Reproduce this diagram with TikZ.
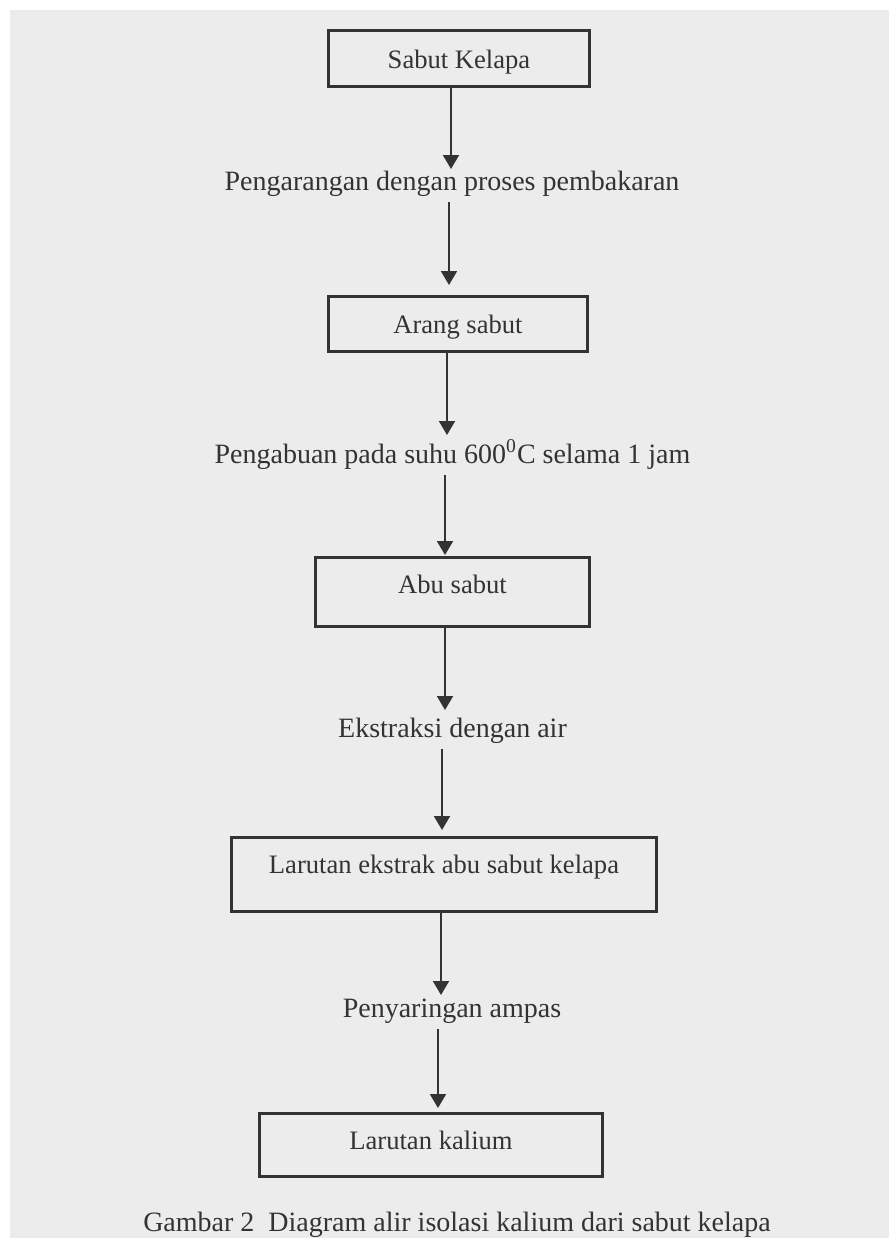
\documentclass[tikz,border=0pt]{standalone}
\usepackage{fontspec}
\setmainfont{Liberation Serif}
\usetikzlibrary{arrows.meta}
\definecolor{bgc}{HTML}{ECECEC}
\definecolor{ink}{HTML}{333333}
\begin{document}
\begin{tikzpicture}[x=0.5pt,y=-0.5pt,
  box/.style={draw=ink, line width=1.7pt, text=ink, font=\fontsize{13.3}{16}\selectfont, inner sep=0pt, text height=10pt},
  lbl/.style={text=ink, font=\fontsize{14}{17}\selectfont, anchor=base, inner xsep=0pt, inner ysep=3pt},
  captext/.style={text=ink, font=\fontsize{14}{17}\selectfont, anchor=base, inner sep=0pt},
  arr/.style={draw=ink, line width=1pt, -{Triangle[width=8pt,length=7pt]}}]
\useasboundingbox (0,0) rectangle (889,1238);
\fill[bgc] (10,10) rectangle (889,1238);
% boxes
\node[box, minimum width=130.3pt, minimum height=27.8pt, text depth=0.5pt] (b1) at (459,58.5) {Sabut Kelapa};
\node[box, minimum width=129.3pt, minimum height=27.3pt, text depth=1pt] (b2) at (458,324) {Arang sabut};
\node[box, minimum width=136.8pt, minimum height=34.3pt, text depth=9pt] (b3) at (452.5,592) {Abu sabut};
\node[box, minimum width=212.3pt, minimum height=36.8pt, text depth=11.5pt] (b4) at (444,874.5) {Larutan ekstrak abu sabut kelapa};
\node[box, minimum width=171.3pt, minimum height=31.3pt, text depth=6pt] (b5) at (431,1145) {Larutan kalium};
% labels
\node[lbl] (l1) at (452,190) {Pengarangan dengan proses pembakaran};
\node[lbl] (l2) at (452.5,463) {Pengabuan pada suhu 600\textsuperscript{0}C selama 1 jam};
\node[lbl] (l3) at (452.5,737) {Ekstraksi dengan air};
\node[lbl] (l4) at (452,1017) {Penyaringan ampas};
\node[captext] (capt) at (457,1231) {Gambar 2\ \ Diagram alir isolasi kalium dari sabut kelapa};
% arrow tips
\coordinate (t1) at (451,169);
\coordinate (t2) at (449,285);
\coordinate (t3) at (447,435);
\coordinate (t4) at (445,555);
\coordinate (t5) at (445,710);
\coordinate (t6) at (442,830);
\coordinate (t7) at (441,995);
\coordinate (t8) at (438,1108);
% arrows
\draw[arr] (b1.south -| t1) -- (t1);
\draw[arr] (l1.south -| t2) -- (t2);
\draw[arr] (b2.south -| t3) -- (t3);
\draw[arr] (l2.south -| t4) -- (t4);
\draw[arr] (b3.south -| t5) -- (t5);
\draw[arr] (l3.south -| t6) -- (t6);
\draw[arr] (b4.south -| t7) -- (t7);
\draw[arr] (l4.south -| t8) -- (t8);
\end{tikzpicture}
\end{document}
